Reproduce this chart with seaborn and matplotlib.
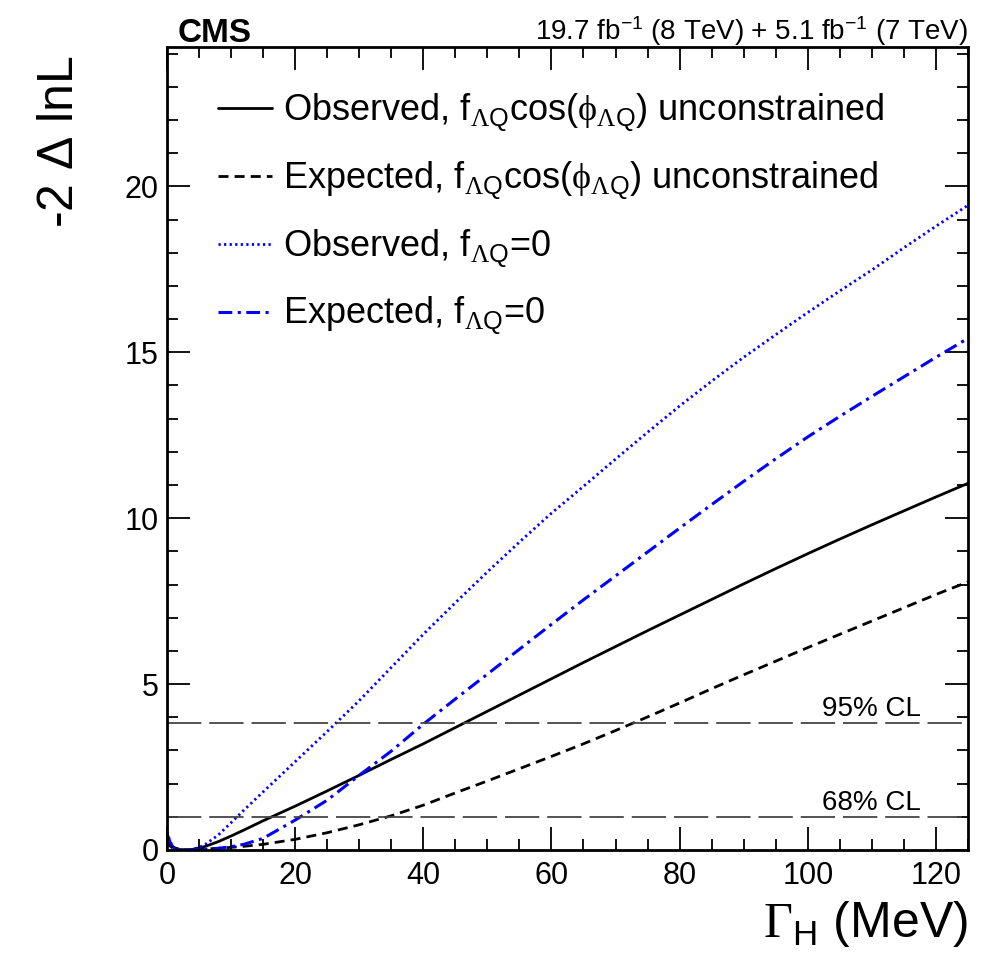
import numpy as np
import pandas as pd
import matplotlib
matplotlib.use("Agg")
import matplotlib.pyplot as plt
from matplotlib.ticker import MultipleLocator
import seaborn as sns

# ---- data ----
gamma = [0, 0.5, 1, 2, 3, 4, 5, 6, 8, 10, 12, 15, 20, 25, 30, 35, 40, 45, 50,
         55, 60, 65, 70, 75, 80, 85, 90, 95, 100, 105, 110, 115, 120, 125]
obs_unc = [0.45, 0.2, 0.08, 0.01, 0.0, 0.02, 0.06, 0.11, 0.25, 0.42, 0.6, 0.88,
           1.32, 1.78, 2.25, 2.73, 3.2, 3.69, 4.18, 4.67, 5.16, 5.65, 6.13, 6.61,
           7.08, 7.55, 8.02, 8.48, 8.93, 9.37, 9.8, 10.22, 10.64, 11.05]
exp_unc = [0.3, 0.12, 0.04, 0.0, 0.0, 0.01, 0.02, 0.03, 0.05, 0.08, 0.11, 0.17,
           0.32, 0.52, 0.76, 1.03, 1.35, 1.72, 2.08, 2.45, 2.82, 3.2, 3.6, 4.01,
           4.43, 4.86, 5.28, 5.69, 6.1, 6.5, 6.9, 7.3, 7.7, 8.08]
obs_f0 = [0.55, 0.25, 0.08, 0.01, 0.0, 0.02, 0.08, 0.17, 0.45, 0.82, 1.2, 1.75,
          2.66, 3.57, 4.5, 5.5, 6.5, 7.45, 8.38, 9.28, 10.15, 10.96, 11.78, 12.59,
          13.38, 14.13, 14.85, 15.53, 16.2, 16.85, 17.48, 18.15, 18.8, 19.43]
exp_f0 = [0.5, 0.22, 0.07, 0.01, 0.0, 0.0, 0.01, 0.02, 0.05, 0.1, 0.17, 0.35,
          0.9, 1.5, 2.25, 2.98, 3.79, 4.55, 5.3, 6.05, 6.8, 7.54, 8.26, 8.98,
          9.7, 10.41, 11.11, 11.79, 12.45, 13.07, 13.67, 14.26, 14.85, 15.42]
cl_levels = [1.0, 3.84]
cl_labels = ["68% CL", "95% CL"]
series_labels = [
    r"Observed, f$_{\mathsf{\Lambda}Q}$cos($\mathsf{\phi}_{\mathsf{\Lambda}Q}$) unconstrained",
    r"Expected, f$_{\mathsf{\Lambda}Q}$cos($\mathsf{\phi}_{\mathsf{\Lambda}Q}$) unconstrained",
    r"Observed, f$_{\mathsf{\Lambda}Q}$=0",
    r"Expected, f$_{\mathsf{\Lambda}Q}$=0",
]

sns.set_style("ticks")
plt.rcParams["font.family"] = ["Liberation Sans", "DejaVu Sans"]
plt.rcParams["mathtext.fontset"] = "custom"
plt.rcParams["mathtext.rm"] = "Liberation Sans"
plt.rcParams["mathtext.it"] = "Liberation Sans:italic"
plt.rcParams["mathtext.bf"] = "Liberation Sans:bold"
plt.rcParams["mathtext.sf"] = "Liberation Serif"
plt.rcParams["mathtext.default"] = "rm"
for k in ["text.color", "axes.labelcolor", "xtick.color", "ytick.color", "axes.edgecolor"]:
    plt.rcParams[k] = "black"

fig = plt.figure(figsize=(9.82, 9.6), dpi=100)
ax = fig.add_axes([0.170, 0.1146, 0.8157, 0.8364])

df = pd.DataFrame({"gamma": gamma, "obs_unc": obs_unc, "exp_unc": exp_unc,
                   "obs_f0": obs_f0, "exp_f0": exp_f0})

styles = [
    ("obs_unc", "black", "-", 2.0),
    ("exp_unc", "black", (0, (3.6, 2.2)), 2.0),
    ("obs_f0", "#0000ff", (0, (0.8, 1.2)), 2.0),
    ("exp_f0", "#0000ff", (0, (4.5, 1.8, 1.0, 1.8)), 2.2),
]
for (col, c, ls, lw), lab in zip(styles, series_labels):
    sns.lineplot(data=df, x="gamma", y=col, ax=ax, color=c, linestyle=ls,
                 linewidth=lw, label=lab)

for lvl, lab in zip(cl_levels, cl_labels):
    ax.axhline(lvl, color="#444444", linewidth=1.3, linestyle=(0, (19, 4.4)))
    ax.text(109.9, lvl + 0.2, lab, fontsize=20, ha="center", va="baseline")

ax.set_xlim(0, 125)
ax.set_ylim(0, 24.2)
ax.xaxis.set_major_locator(MultipleLocator(20))
ax.xaxis.set_minor_locator(MultipleLocator(5))
ax.yaxis.set_major_locator(MultipleLocator(5))
ax.yaxis.set_minor_locator(MultipleLocator(1))
ax.tick_params(which="both", direction="in", top=True, right=True, width=1.3)
ax.tick_params(which="major", length=16.5, labelsize=22)
ax.tick_params(axis="x", which="major", pad=8)
ax.tick_params(axis="y", which="major", pad=6)
ax.tick_params(which="minor", length=8)
for s in ax.spines.values():
    s.set_linewidth(2.0)

ax.set_xlabel(r"$\mathsf{\Gamma}_{\mathrm{H}}$ (MeV)", fontsize=36, loc="right", labelpad=6)
ax.set_ylabel(r"-2 $\Delta$ lnL", fontsize=36, loc="top")
ax.yaxis.set_label_coords(-0.105, 0.99)

leg = ax.legend(loc="upper left", bbox_to_anchor=(0.064, 0.944), frameon=False,
                fontsize=26, handlelength=1.5, handletextpad=0.3,
                labelspacing=0.71, borderpad=0, borderaxespad=0)

fig.text(0.181, 0.956, "CMS", fontsize=24, fontweight="bold", ha="left", va="baseline")
fig.text(0.9857, 0.958, r"19.7 fb$^{-1}$ (8 TeV) + 5.1 fb$^{-1}$ (7 TeV)",
         fontsize=20, ha="right", va="baseline")

fig.savefig("out.png", dpi=100)
